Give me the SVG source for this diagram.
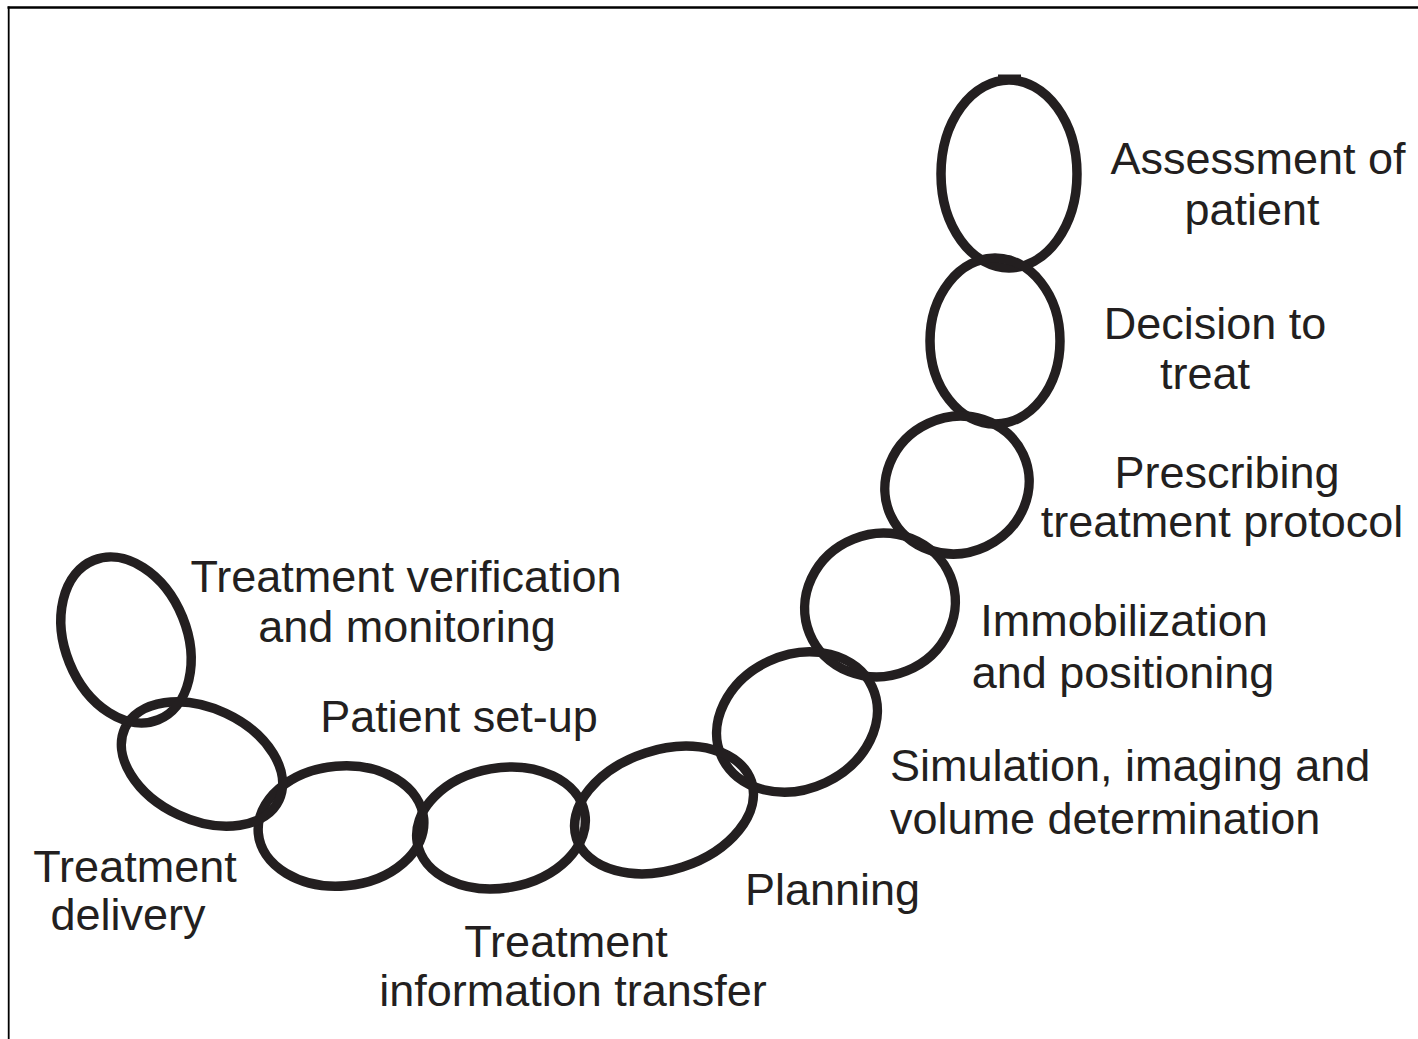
<svg xmlns="http://www.w3.org/2000/svg" width="1418" height="1039" viewBox="0 0 1418 1039">
  <style>
    .link { fill: none; stroke: #231f20; stroke-width: 9.5; }
    .lbl { font-family: "Liberation Sans", Arial, sans-serif; font-size: 45px; fill: #231f20; text-anchor: middle; }
    .lbl-start { text-anchor: start; }
    .frame { stroke: #000; fill: none; }
  </style>

  <rect width="1418" height="1039" fill="#fff"/>

  <!-- page frame: top and left rules only -->
  <g id="frame">
    <line class="frame" x1="7.5" y1="7.5" x2="1418" y2="7.5" stroke-width="2.6"/>
    <line class="frame" x1="8.7" y1="6.5" x2="8.7" y2="1039" stroke-width="1.8"/>
  </g>

  <!-- chain links, top of the chain first -->
  <g id="assessment">
    <ellipse class="link" cx="1009" cy="174" rx="68" ry="94"/>
    <path d="M998 77 H1021" stroke="#231f20" stroke-width="5"/>
    <text class="lbl" x="1258" y="174">Assessment of</text>
    <text class="lbl" x="1252" y="225">patient</text>
  </g>

  <g id="decision">
    <ellipse class="link" cx="995" cy="341" rx="65" ry="83"/>
    <text class="lbl" x="1215" y="339">Decision to</text>
    <text class="lbl" x="1205" y="389">treat</text>
  </g>

  <g id="prescribing">
    <ellipse class="link" cx="957" cy="485" rx="73" ry="68" transform="rotate(-25 957 485)"/>
    <text class="lbl" x="1227" y="488">Prescribing</text>
    <text class="lbl" x="1222" y="537">treatment protocol</text>
  </g>

  <g id="immobilization">
    <ellipse class="link" cx="880" cy="605" rx="76" ry="71" transform="rotate(-22 880 605)"/>
    <text class="lbl" x="1124" y="636">Immobilization</text>
    <text class="lbl" x="1123" y="688">and positioning</text>
  </g>

  <g id="simulation">
    <ellipse class="link" cx="797" cy="722" rx="83" ry="67" transform="rotate(-25 797 722)"/>
    <text class="lbl lbl-start" x="890" y="781">Simulation, imaging and</text>
    <text class="lbl lbl-start" x="890" y="834">volume determination</text>
  </g>

  <g id="planning">
    <ellipse class="link" cx="664" cy="810" rx="92" ry="60" transform="rotate(-18 664 810)"/>
    <text class="lbl lbl-start" x="745" y="905">Planning</text>
  </g>

  <g id="information-transfer">
    <ellipse class="link" cx="501" cy="828" rx="85" ry="60" transform="rotate(-10 501 828)"/>
    <text class="lbl" x="566" y="957">Treatment</text>
    <text class="lbl" x="573" y="1006">information transfer</text>
  </g>

  <g id="patient-setup">
    <ellipse class="link" cx="341" cy="826" rx="83" ry="60" transform="rotate(-5 341 826)"/>
    <text class="lbl" x="459" y="732">Patient set-up</text>
  </g>

  <g id="delivery">
    <ellipse class="link" cx="202" cy="764" rx="85" ry="56" transform="rotate(25 202 764)"/>
    <text class="lbl" x="135" y="882">Treatment</text>
    <text class="lbl" x="128" y="930">delivery</text>
  </g>

  <g id="verification">
    <ellipse class="link" cx="126" cy="640" rx="61" ry="86" transform="rotate(-22 126 640)"/>
    <text class="lbl" x="406" y="592">Treatment verification</text>
    <text class="lbl" x="407" y="642">and monitoring</text>
  </g>
</svg>
